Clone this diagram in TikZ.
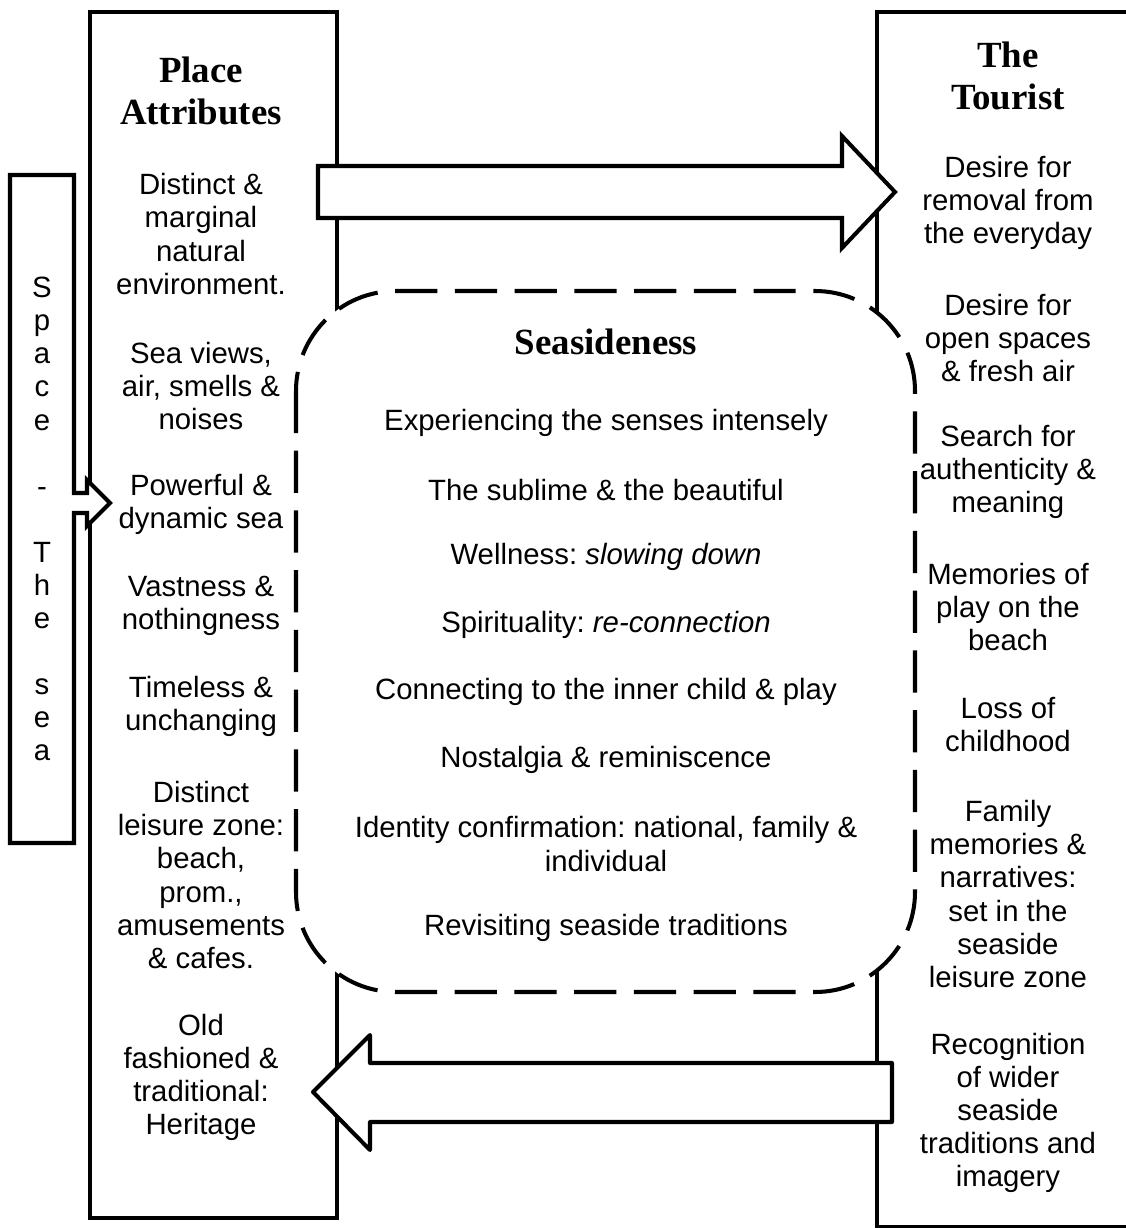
\documentclass[tikz,border=0pt]{standalone}
\usepackage{fontspec}
\setmainfont{Liberation Sans}
\newfontfamily\headfont{Liberation Serif}
\usetikzlibrary{positioning}
\frenchspacing

\begin{document}
\begin{tikzpicture}[x=0.02cm,y=-0.02cm,
    panel/.style={draw,line width=2.3pt,fill=white},
    zone/.style={draw,line width=2.3pt,fill=white,dash pattern=on 24pt off 10pt,rounded corners=2cm},
    blockarrow/.style={draw,line width=2.3pt,fill=white},
    item/.style={align=center,inner sep=0pt,font=\fontsize{16.7}{18.8}\selectfont},
    heading/.style={align=center,inner sep=0pt,font=\headfont\bfseries\fontsize{21}{23.8}\selectfont}]
    \useasboundingbox[fill=white] (0,0) rectangle (1126,1228);
    \clip (0,0) rectangle (1126,1228);

    \draw[panel] (90,12) rectangle (337,1218);
    \draw[panel] (877,12) rectangle (1160,1227);
    \draw[zone] (296,291) rectangle (915,992);

    \draw[blockarrow] (318,166) -- (842,166) -- (842,136) -- (895,192) -- (842,248) -- (842,218) -- (318,218) -- cycle;
    \draw[blockarrow,line join=round] (892,1063) -- (370,1063) -- (370,1035) -- (313,1092) -- (370,1150) -- (370,1122) -- (892,1122) -- cycle;
    \draw[panel] (10,175) -- (74,175) -- (74,493) -- (87,493) -- (87,480) -- (110,503) -- (87,526) -- (87,513) -- (74,513) -- (74,843) -- (10,843) -- cycle;

    \node[item] (space) at (42,519) {S\\p\\a\\c\\e\\\mbox{}\\-\\\mbox{}\\T\\h\\e\\\mbox{}\\s\\e\\a};

    \node[heading] (attrhead) at (201,91) {Place\\Attributes};
    \node[item] (attr1) at (201,234) {Distinct \&\\marginal\\natural\\environment.};
    \node[item] (attr2) at (201,386) {Sea views,\\air, smells \&\\noises};
    \node[item] (attr3) at (201,504) {Powerful \&\\dynamic sea};
    \node[item] (attr4) at (201,606) {Vastness \&\\nothingness};
    \node[item] (attr5) at (201,706) {Timeless \&\\unchanging};
    \node[item] (attr6) at (201,875) {Distinct\\leisure zone:\\beach,\\prom.,\\amusements\\\& cafes.};
    \node[item] (attr7) at (201,1077) {Old\\fashioned \&\\traditional:\\Heritage};

    \node[heading] (tourhead) at (1008,76) {The\\Tourist};
    \node[item] (tour1) at (1008,203) {Desire for\\removal from\\the everyday};
    \node[item] (tour2) at (1008,338) {Desire for\\open spaces\\\& fresh air};
    \node[item] (tour3) at (1008,472) {Search for\\authenticity \&\\meaning};
    \node[item] (tour4) at (1008,607) {Memories of\\play on the\\beach};
    \node[item] (tour5) at (1008,725) {Loss of\\childhood};
    \node[item] (tour6) at (1008,894) {Family\\memories \&\\narratives:\\set in the\\seaside\\leisure zone};
    \node[item] (tour7) at (1008,1113) {Recognition\\of wider\\seaside\\traditions and\\imagery};

    \node[heading] (seahead) at (606,342) {Seasideness};
    \node[item] (sea1) at (606,423) {Experiencing the senses intensely};
    \node[item] (sea2) at (606,490) {The sublime \& the beautiful};
    \node[item] (sea3) at (606,557) {Wellness: \textit{slowing down}};
    \node[item] (sea4) at (606,625) {Spirituality: \textit{re-connection}};
    \node[item] (sea5) at (606,692) {Connecting to the inner child \& play};
    \node[item] (sea6) at (606,760) {Nostalgia \& reminiscence};
    \node[item] (sea7) at (606,844) {Identity confirmation: national, family \&\\individual};
    \node[item] (sea8) at (606,928) {Revisiting seaside traditions};
\end{tikzpicture}
\end{document}
